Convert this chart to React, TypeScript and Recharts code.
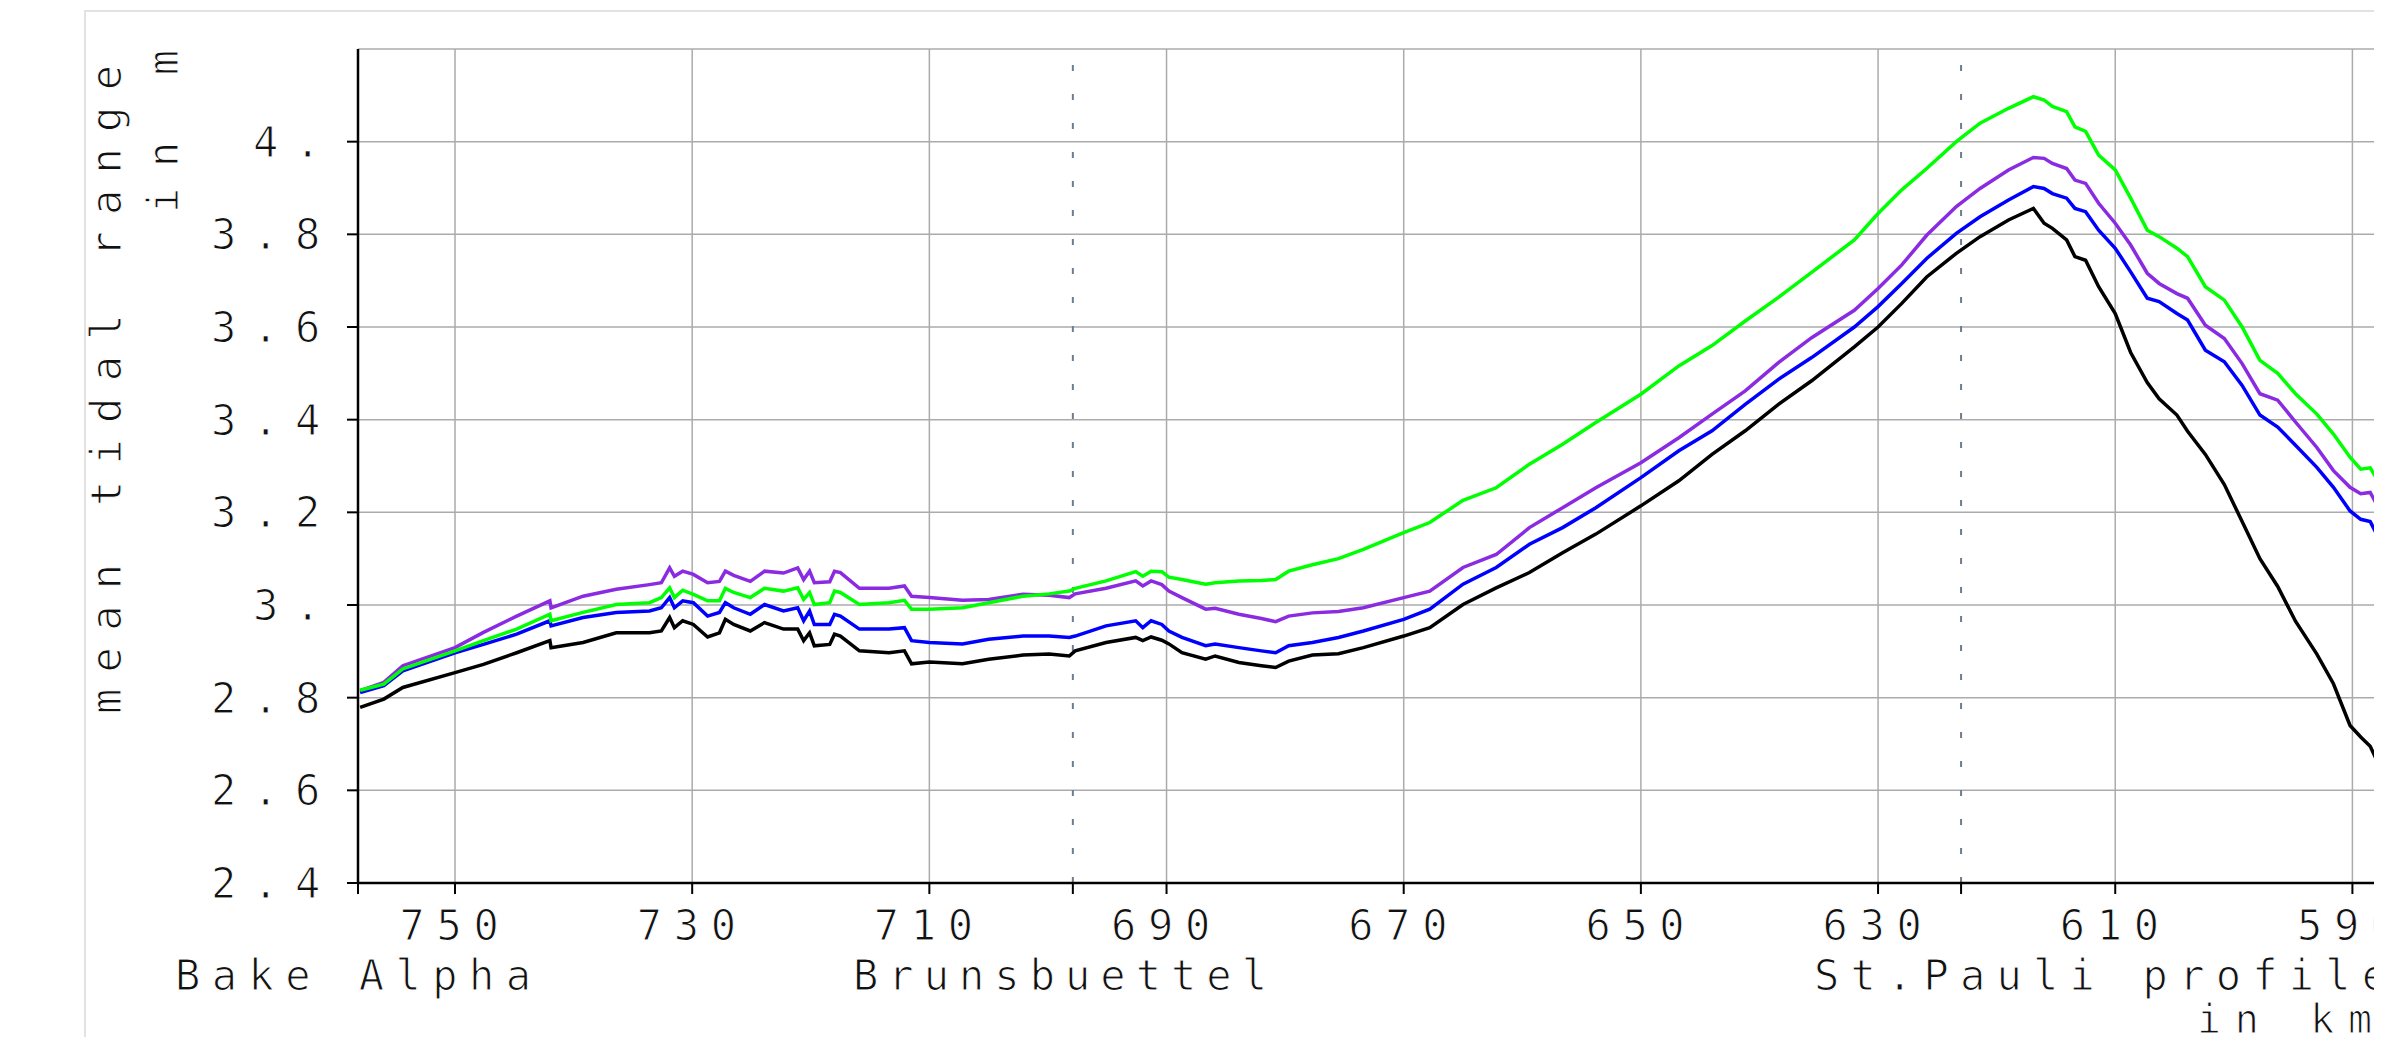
import { LineChart, Line, XAxis, YAxis, CartesianGrid, ReferenceLine } from 'recharts'

// Elbe kilometre (profile), going upstream left to right
const km = [
  758.0, 756.0, 754.4, 750.0, 747.6, 744.8, 742.0, 741.9, 739.2, 736.4,
  733.6, 732.6, 731.9, 731.5, 730.8, 729.9, 728.7, 727.7, 727.2, 726.5,
  725.1, 723.9, 722.3, 721.1, 720.6, 720.1, 719.7, 718.4, 718.0, 717.5,
  715.9, 713.4, 712.1, 711.5, 710.0, 707.2, 705.0, 702.1, 699.9, 698.2,
  697.7, 695.1, 692.6, 692.0, 691.3, 690.4, 689.8, 688.7, 686.7, 685.9,
  683.9, 682.0, 680.8, 679.7, 677.7, 675.5, 673.4, 670.0, 667.8, 665.0,
  662.2, 659.4, 656.6, 653.8, 650.0, 646.8, 644.0, 641.2, 638.4, 635.6,
  632.0, 630.0, 628.0, 625.9, 623.4, 621.4, 619.0, 616.9, 616.0, 615.3,
  614.1, 613.4, 612.5, 611.4, 610.0, 608.7, 607.3, 606.3, 604.8, 603.9,
  602.4, 600.8, 599.3, 597.8, 596.3, 594.8, 593.0, 591.6, 590.2, 589.3,
  588.5, 587.5,
]

// mean tidal range in m
const black = [
  2.779, 2.797, 2.822, 2.854, 2.872, 2.897, 2.923, 2.908, 2.919, 2.94,
  2.94, 2.944, 2.973, 2.951, 2.966, 2.958, 2.931, 2.94, 2.969, 2.958,
  2.944, 2.962, 2.948, 2.948, 2.923, 2.94, 2.912, 2.915, 2.937, 2.933,
  2.901, 2.897, 2.901, 2.873, 2.877, 2.873, 2.883, 2.892, 2.894, 2.89,
  2.901, 2.919, 2.93, 2.923, 2.931, 2.924, 2.916, 2.897, 2.883, 2.89,
  2.876, 2.869, 2.865, 2.879, 2.892, 2.895, 2.908, 2.933, 2.951, 3.001,
  3.037, 3.07, 3.113, 3.153, 3.214, 3.268, 3.325, 3.376, 3.433, 3.484,
  3.557, 3.6, 3.651, 3.708, 3.759, 3.795, 3.831, 3.856, 3.824, 3.813,
  3.788, 3.752, 3.744, 3.687, 3.629, 3.545, 3.48, 3.445, 3.41, 3.375,
  3.325, 3.26, 3.18, 3.1, 3.04, 2.965, 2.894, 2.83, 2.74, 2.715,
  2.695, 2.641,
]
const blue = [
  2.811, 2.826, 2.858, 2.897, 2.915, 2.937, 2.966, 2.955, 2.973, 2.984,
  2.987, 2.994, 3.016, 2.994, 3.009, 3.005, 2.976, 2.984, 3.005, 2.994,
  2.98, 3.001, 2.987, 2.994, 2.966, 2.987, 2.958, 2.958, 2.98, 2.976,
  2.948, 2.948, 2.951, 2.923, 2.919, 2.916, 2.926, 2.933, 2.933, 2.93,
  2.933, 2.955, 2.966, 2.951, 2.966, 2.958, 2.944, 2.93, 2.912, 2.916,
  2.908, 2.901, 2.897, 2.912, 2.919, 2.93, 2.944, 2.969, 2.991, 3.045,
  3.081, 3.131, 3.167, 3.21, 3.275, 3.333, 3.376, 3.433, 3.487, 3.534,
  3.6, 3.644, 3.694, 3.748, 3.802, 3.838, 3.874, 3.903, 3.899, 3.888,
  3.878, 3.856, 3.849, 3.809, 3.77, 3.719, 3.662, 3.655, 3.629, 3.615,
  3.55, 3.525, 3.474, 3.41, 3.384, 3.345, 3.297, 3.254, 3.203, 3.185,
  3.18, 3.131,
]
const green = [
  2.816, 2.829, 2.862, 2.901, 2.923, 2.948, 2.98, 2.966, 2.984, 3.001,
  3.005, 3.016, 3.037, 3.016, 3.032, 3.023, 3.009, 3.009, 3.036, 3.027,
  3.016, 3.036, 3.03, 3.037, 3.012, 3.027, 3.001, 3.005, 3.03, 3.027,
  3.001, 3.005, 3.01, 2.991, 2.991, 2.994, 3.005, 3.019, 3.024, 3.03,
  3.036, 3.052, 3.072, 3.062, 3.073, 3.072, 3.06, 3.055, 3.045, 3.048,
  3.052, 3.053, 3.055, 3.073, 3.087, 3.1, 3.12, 3.156, 3.178, 3.226,
  3.253, 3.304, 3.347, 3.394, 3.455, 3.516, 3.56, 3.613, 3.664, 3.718,
  3.788, 3.845, 3.896, 3.942, 4.0, 4.04, 4.072, 4.097, 4.09, 4.076,
  4.065, 4.032, 4.022, 3.971, 3.939, 3.878, 3.809, 3.795, 3.77, 3.752,
  3.687, 3.658, 3.6, 3.528, 3.5, 3.456, 3.412, 3.369, 3.319, 3.293,
  3.296, 3.254,
]
const purple = [
  2.815, 2.833, 2.869, 2.908, 2.941, 2.976, 3.009, 2.994, 3.019, 3.034,
  3.044, 3.048, 3.08, 3.062, 3.073, 3.066, 3.048, 3.051, 3.073, 3.064,
  3.051, 3.073, 3.069, 3.08, 3.055, 3.073, 3.048, 3.05, 3.073, 3.07,
  3.036, 3.036, 3.041, 3.019, 3.016, 3.01, 3.012, 3.023, 3.021, 3.016,
  3.024, 3.036, 3.052, 3.041, 3.052, 3.044, 3.03, 3.016, 2.991, 2.993,
  2.98, 2.971, 2.964, 2.976, 2.983, 2.986, 2.994, 3.016, 3.03, 3.081,
  3.109, 3.167, 3.21, 3.253, 3.307, 3.361, 3.412, 3.462, 3.523, 3.577,
  3.636, 3.683, 3.734, 3.798, 3.86, 3.899, 3.939, 3.966, 3.964, 3.953,
  3.942, 3.917, 3.91, 3.867, 3.824, 3.777, 3.716, 3.694, 3.672, 3.662,
  3.604, 3.575, 3.521, 3.456, 3.442, 3.395, 3.34, 3.29, 3.254, 3.24,
  3.243, 3.196,
]

const xLabels = [750, 730, 710, 690, 670, 650, 630, 610, 590, 570]
const stations = [697.9, 623] // Brunsbuettel, St.Pauli
const yTicks = [2.4, 2.6, 2.8, 3.0, 3.2, 3.4, 3.6, 3.8, 4.0]
const xStart = 758.18
const xEnd = 580

const rows = km.map((k, i) => ({
  km: k,
  black: black[i],
  blue: blue[i],
  green: green[i],
  purple: purple[i],
}))

const W = 2600
const H = 1029
const font = '"DejaVu Sans Mono", monospace'

const fmtY = (v: number) =>
  Math.abs(v - Math.round(v)) < 1e-9 ? `${Math.round(v)}.` : v.toFixed(1)

const textStyle = {
  fontFamily: font,
  fontSize: 42,
  fill: '#111',
  stroke: '#fff',
  strokeWidth: 1.1,
}

function XTick(props: any) {
  const { x, y, payload } = props
  if (!xLabels.includes(payload.value)) return <g />
  return (
    <text x={x} y={y + 44} textAnchor="middle" style={{ ...textStyle, letterSpacing: 11.7 }}>
      {payload.value}
    </text>
  )
}

function YTick(props: any) {
  const { x, y, payload } = props
  return (
    <text x={x - 8} y={y + 15} textAnchor="end" style={{ ...textStyle, letterSpacing: 16.7 }}>
      {fmtY(payload.value)}
    </text>
  )
}

const gridX = (args: any) => {
  const off = args.offset
  const s = args.xAxis?.scale
  return xLabels.map((v) =>
    typeof s === 'function' ? s(v) : off.left + ((xStart - v) / (xStart - xEnd)) * off.width
  )
}

export default function App() {
  return (
    <div style={{ position: 'relative', width: 2374, height: H, overflow: 'hidden', background: '#fff' }}>
      <div
        style={{
          position: 'absolute',
          left: 76,
          top: 2,
          width: 2600,
          height: 1200,
          borderLeft: '2px solid #e2e2e2',
          borderTop: '2px solid #e2e2e2',
        }}
      />
      <div style={{ position: 'absolute', left: 0, top: 0 }}>
        <LineChart
          width={W}
          height={H}
          data={rows}
          margin={{ top: 41, left: 250, right: 137, bottom: 54 }}
        >
          <CartesianGrid
            stroke="#ababab"
            strokeWidth={1.5}
            verticalCoordinatesGenerator={gridX}
          />
          <XAxis
            dataKey="km"
            type="number"
            domain={[xEnd, xStart]}
            reversed
            allowDataOverflow
            ticks={[xStart, ...xLabels.slice(0, 3), stations[0], ...xLabels.slice(3, 7), stations[1], ...xLabels.slice(7)]}
            interval={0}
            height={100}
            tickSize={11}
            tickMargin={2}
            tick={<XTick />}
            tickLine={{ stroke: '#000', strokeWidth: 2 }}
            axisLine={{ stroke: '#000', strokeWidth: 2.5 }}
          />
          <YAxis
            type="number"
            domain={[2.4, 4.2]}
            ticks={yTicks}
            interval={0}
            width={100}
            tickSize={11}
            tickMargin={2}
            tick={<YTick />}
            tickLine={{ stroke: '#000', strokeWidth: 2 }}
            axisLine={{ stroke: '#000', strokeWidth: 2.5 }}
          />
          {stations.map((s) => (
            <ReferenceLine
              key={s}
              x={s}
              stroke="#6d7d8f"
              strokeWidth={2}
              strokeDasharray="6 23"
            />
          ))}
          <Line dataKey="purple" stroke="#8a2be2" strokeWidth={3.5} dot={false} isAnimationActive={false} />
          <Line dataKey="black" stroke="#000000" strokeWidth={3.5} dot={false} isAnimationActive={false} />
          <Line dataKey="blue" stroke="#0000ff" strokeWidth={3.5} dot={false} isAnimationActive={false} />
          <Line dataKey="green" stroke="#00ff00" strokeWidth={3.5} dot={false} isAnimationActive={false} />
        </LineChart>
      </div>
      <svg
        width={W}
        height={H}
        style={{ position: 'absolute', left: 0, top: 0, pointerEvents: 'none' }}
      >
        <g style={textStyle}>
          <text x={113} y={706} transform="rotate(-90 113 706)" textLength={649} lengthAdjust="spacing">
            mean tidal range
          </text>
          <text x={170} y={205} transform="rotate(-90 170 205)" textLength={163} lengthAdjust="spacing">
            in m
          </text>
          <text x={167} y={982} textLength={356} lengthAdjust="spacing">Bake Alpha</text>
          <text x={845} y={982} textLength={414} lengthAdjust="spacing">Brunsbuettel</text>
          <text x={1806} y={982} textLength={573} lengthAdjust="spacing">St.Pauli profile</text>
          <text x={2189} y={1025} fontSize={40} textLength={175} lengthAdjust="spacing">in km</text>
        </g>
      </svg>
    </div>
  )
}
